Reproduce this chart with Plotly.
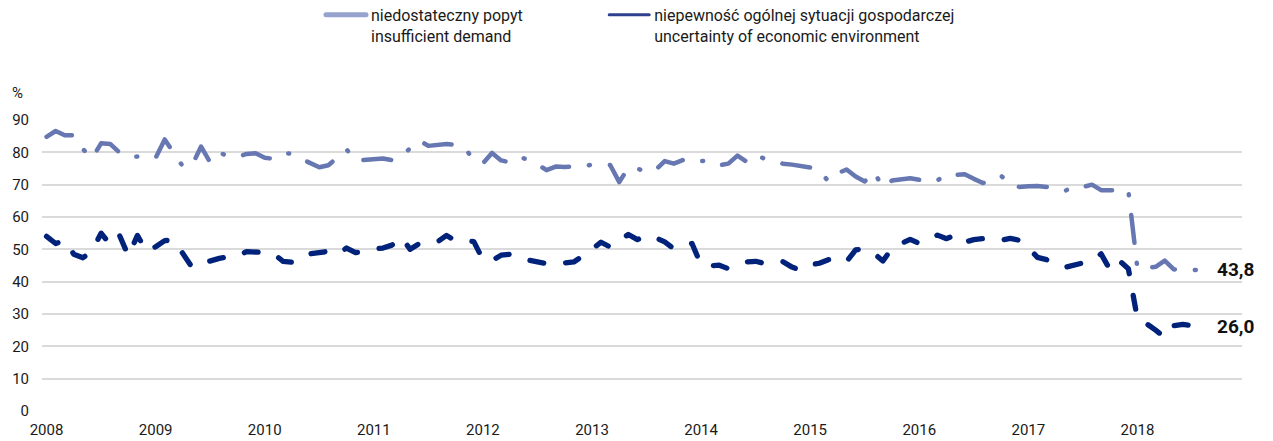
import plotly.graph_objects as go

# Monthly survey readings, January 2008 - August 2018 (% of enterprises)
years = ["2008", "2009", "2010", "2011", "2012", "2013", "2014", "2015", "2016", "2017", "2018"]
n_months = 132  # axis spans Jan 2008 - Dec 2018

insufficient_demand = [
    84.8, 86.6, 85.3, 85.3, 81.0, 78.1, 82.8, 82.6, 80.0, 78.5, 78.7, 78.4,
    78.3, 84.0, 79.8, 75.6, 76.0, 81.8, 76.9, 79.9, 78.8, 78.6, 79.5, 79.7,
    78.3, 78.0, 79.7, 79.6, 78.0, 76.8, 75.4, 76.0, 78.6, 80.9, 77.4, 77.6,
    78.0, 78.1, 77.6, 78.6, 81.3, 83.7, 82.0, 82.3, 82.6, 82.3, 81.5, 77.5,
    76.6, 79.8, 77.5, 76.9, 78.6, 77.7, 76.3, 74.5, 75.6, 75.5, 75.6, 75.6,
    76.2, 76.3, 76.1, 70.8, 75.3, 75.0, 73.8, 74.6, 77.3, 76.5, 77.6, 76.8,
    77.3, 77.4, 76.0, 76.5, 79.0, 77.1, 79.2, 78.0, 77.2, 76.5, 76.2, 75.8,
    75.3, 74.5, 71.0, 73.5, 74.7, 72.5, 71.0, 74.0, 69.2, 71.3, 71.6, 72.0,
    71.5, 70.9, 71.3, 73.3, 73.0, 73.2, 71.8, 70.5, 71.5, 72.8, 69.8, 69.3,
    69.5, 69.6, 69.3, 68.5, 68.0, 69.6, 69.3, 70.0, 68.3, 68.3, 68.3, 68.2,
    44.0, 44.3, 44.6, 46.5, 43.8, 43.6, 43.5, 43.8,
]

uncertainty = [
    54.0, 51.8, 52.8, 48.5, 47.4, 49.5, 55.0, 51.5, 54.5, 48.0, 54.3, 49.3,
    50.8, 52.7, 52.8, 48.8, 44.5, 45.6, 46.5, 47.2, 47.7, 47.9, 49.3, 49.3,
    49.0, 48.6, 46.3, 46.0, 48.0, 48.6, 48.9, 49.4, 48.5, 50.4, 49.0, 49.3,
    50.1, 50.4, 51.3, 53.8, 50.0, 51.8, 52.0, 52.3, 54.3, 52.6, 52.6, 52.4,
    46.8, 46.5, 48.2, 48.5, 47.2, 46.6, 46.1, 45.6, 45.5, 45.6, 46.1, 48.0,
    50.2, 52.2, 50.7, 52.6, 54.6, 53.0, 54.3, 53.6, 52.3, 50.2, 50.8, 51.8,
    45.2, 44.9, 45.1, 44.0, 45.2, 46.1, 46.3, 45.6, 46.0, 46.2, 44.5, 43.5,
    45.2, 45.7, 46.8, 47.2, 46.2, 49.8, 50.2, 48.8, 46.4, 50.3, 51.8, 53.1,
    51.8, 53.2, 54.4, 53.3, 54.5, 52.2, 53.0, 53.3, 53.0, 52.8, 53.4, 52.8,
    50.5, 47.5, 46.8, 45.3, 44.4, 45.0, 45.8, 46.5, 48.6, 43.6, 46.5, 44.0,
    28.5, 27.0, 25.0, 22.8, 26.4, 26.8, 26.4, 26.0,
]

name_demand = "niedostateczny popyt<br>insufficient demand"
name_uncert = "niepewność ogólnej sytuacji gospodarczej<br>uncertainty of economic environment"

col_demand = "#6777B1"
col_uncert = "#00227A"
font_family = "Roboto, 'Noto Sans', sans-serif"

months = list(range(len(insufficient_demand)))

fig = go.Figure()

fig.add_trace(go.Scatter(
    x=months, y=insufficient_demand, mode="lines",
    line=dict(color=col_demand, width=4.5, dash="28px,20px,1px,20px"),
    showlegend=False, hoverinfo="skip",
))
fig.add_trace(go.Scatter(
    x=months, y=uncertainty, mode="lines",
    line=dict(color=col_uncert, width=5.3, dash="14px,22px"),
    showlegend=False, hoverinfo="skip",
))

# solid legend keys
fig.add_trace(go.Scatter(
    x=[None], y=[None], mode="lines", name=name_demand,
    line=dict(color="#97A3CF", width=5), legend="legend",
))
fig.add_trace(go.Scatter(
    x=[None], y=[None], mode="lines", name=name_uncert,
    line=dict(color="#2E3F8E", width=3), legend="legend2",
))

# value labels at the last month
for series in (insufficient_demand, uncertainty):
    fig.add_annotation(
        x=months[-1], y=series[-1], xref="x", yref="y",
        text=f"{series[-1]:.1f}".replace(".", ","),
        showarrow=False, xanchor="left", yanchor="middle", xshift=14,
        font=dict(family=font_family, size=19, color="#111111", weight="bold"),
    )

fig.add_annotation(
    x=-0.0206, y=1.0918, xref="paper", yref="paper", text="%",
    showarrow=False, xanchor="center", yanchor="middle",
    font=dict(family=font_family, size=15, color="#1a1a1a"),
)

legend_common = dict(
    orientation="h", yanchor="top", y=1.42, xanchor="left",
    font=dict(family=font_family, size=16, color="#1a1a1a"),
    bgcolor="rgba(0,0,0,0)", itemwidth=40, valign="top",
)

fig.update_layout(
    width=1273, height=441,
    margin=dict(l=41.7, r=31, t=119.7, b=30.3, autoexpand=False),
    paper_bgcolor="white", plot_bgcolor="white",
    font=dict(family=font_family, size=15, color="#1a1a1a"),
    legend=dict(x=0.2325, **legend_common),
    legend2=dict(x=0.4685, **legend_common),
    xaxis=dict(
        range=[-0.5, n_months - 0.5], automargin=False,
        tickmode="array", tickvals=[12 * k for k in range(len(years))], ticktext=years,
        showgrid=False, zeroline=False, showline=False,
        ticks="", ticklabelstandoff=8,
        tickfont=dict(family=font_family, size=15, color="#1a1a1a"),
    ),
    yaxis=dict(
        range=[0, 90], dtick=10, tick0=0, automargin=False,
        showgrid=True, gridcolor="#DADADA", gridwidth=1.5,
        zeroline=False, showline=False, ticks="", ticklabelstandoff=12,
        tickfont=dict(family=font_family, size=15, color="#1a1a1a"),
    ),
)

round_caps = (
    "var s=document.createElement('style');"
    "s.textContent='.js-line{stroke-linecap:round;stroke-linejoin:round}';"
    "document.head.appendChild(s);"
)

fig.write_html("out.html", post_script=round_caps)
